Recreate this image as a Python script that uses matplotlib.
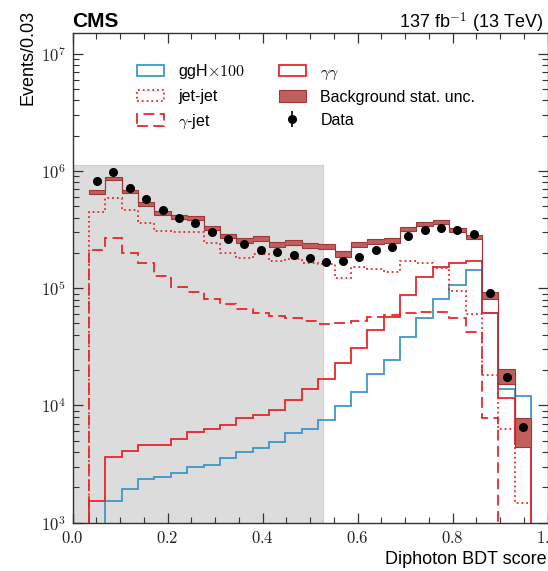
import numpy as np
import matplotlib
matplotlib.use('Agg')
from matplotlib import pyplot as plt
from matplotlib.patches import Patch
from matplotlib.ticker import FuncFormatter, MultipleLocator, LogLocator, NullFormatter

plt.rcParams['font.family'] = ['Liberation Sans', 'DejaVu Sans']
plt.rcParams['mathtext.fontset'] = 'cm'

# 29 bins of the diphoton BDT score in [0, 1]
n_bins = 29
edges = np.linspace(0.0, 1.0, n_bins + 1)

ggh_x100 = [0, 0, 1.53e3, 1.94e3, 2.35e3, 2.47e3, 2.64e3, 2.97e3, 3.09e3, 3.59e3,
            4.03e3, 4.31e3, 4.88e3, 5.86e3, 6.35e3, 7.45e3, 9.8e3, 1.3e4, 1.87e4, 2.44e4,
            3.8e4, 5.61e4, 8.05e4, 1.07e5, 1.43e5, 6.19e4, 1.37e4, 1.2e4, 0]
gamgam = [0, 1.52e3, 3.66e3, 4.11e3, 4.57e3, 4.63e3, 5.18e3, 5.94e3, 6.34e3, 6.82e3,
          7.78e3, 8.3e3, 9.15e3, 1.11e4, 1.39e4, 1.68e4, 2.29e4, 3.08e4, 4.41e4, 5.72e4,
          8.77e4, 1.24e5, 1.53e5, 1.65e5, 1.72e5, 6.12e4, 1.15e4, 4.67e3, 0]
jetjet = [0, 4.5e5, 5.93e5, 4.66e5, 3.59e5, 3.1e5, 3.0e5, 3.0e5, 2.42e5, 1.99e5,
          1.8e5, 1.95e5, 1.7e5, 1.77e5, 1.65e5, 1.61e5, 1.23e5, 1.51e5, 1.47e5, 1.37e5,
          1.72e5, 1.63e5, 1.49e5, 9.5e4, 6.0e4, 1.81e4, 6.27e3, 1.47e3, 0]
gamjet = [0, 2.1e5, 2.67e5, 1.99e5, 1.63e5, 1.26e5, 1.03e5, 9.35e4, 8.05e4, 7.35e4,
          6.66e4, 6.12e4, 5.8e4, 5.61e4, 5.29e4, 4.93e4, 5.05e4, 5.29e4, 5.72e4, 5.9e4,
          6.2e4, 6.27e4, 6.27e4, 5.6e4, 4.26e4, 7.8e3, 0, 0, 0]
bkg_rel_unc = [0, 0.035, 0.035, 0.035, 0.04, 0.04, 0.04, 0.04, 0.04, 0.04,
               0.045, 0.045, 0.045, 0.045, 0.05, 0.05, 0.06, 0.05, 0.05, 0.05,
               0.04, 0.04, 0.04, 0.04, 0.04, 0.066, 0.14, 0.28, 0]
data = [0, 8.24e5, 9.77e5, 7.18e5, 5.78e5, 4.66e5, 3.98e5, 3.63e5, 3.02e5, 2.63e5,
        2.4e5, 2.11e5, 2.03e5, 1.91e5, 1.8e5, 1.68e5, 1.72e5, 1.85e5, 2.12e5, 2.23e5,
        2.76e5, 3.12e5, 3.29e5, 3.16e5, 2.92e5, 9.17e4, 1.75e4, 6.52e3, 0]

# shaded region
shade_xmax = 0.527
shade_top = 1.13e6

blue = '#3f96c8'
red = '#e8262b'
band_face = '#c0605e'
band_edge = '#9e3838'

fig = plt.figure(figsize=(5.48, 5.71), dpi=100)
ax = fig.add_axes([0.1323, 0.0846, 0.8668, 0.8576])
ax.set_yscale('log')

ax.fill_between([0, shade_xmax], 1.0, shade_top, facecolor='#dcdcdc',
                edgecolor='#cfcfcf', lw=0.8, zorder=0)

ax.stairs(ggh_x100, edges, baseline=None, color=blue, lw=1.3, zorder=2)
ax.stairs(gamgam, edges, baseline=None, color=red, lw=1.3, zorder=2)
ax.stairs(jetjet, edges, baseline=None, color=red, lw=1.3, ls=':', zorder=2)
ax.stairs(gamjet, edges, baseline=None, color=red, lw=1.3, ls=(0, (6, 3)), zorder=2)

total = np.array(gamgam) + np.array(jetjet) + np.array(gamjet)
unc = np.array(bkg_rel_unc)
nz = np.nonzero(total)[0]
i0, i1 = nz[0], nz[-1] + 1
ax.stairs((total * (1 + unc))[i0:i1], edges[i0:i1 + 1], baseline=(total * (1 - unc))[i0:i1],
          fill=True, facecolor=band_face, edgecolor=band_edge, lw=0.8, zorder=3)

centers = 0.5 * (edges[:-1] + edges[1:])
d = np.array(data, dtype=float)
m = d > 0
eb = ax.errorbar(centers[m], d[m], yerr=np.sqrt(d[m]), fmt='o', color='k', ms=5.5,
                 elinewidth=1.2, capsize=0, zorder=4)

ax.set_xlim(0, 1)
ax.set_ylim(1e3, 1.5e7)

ax.xaxis.set_major_locator(MultipleLocator(0.2))
ax.xaxis.set_minor_locator(MultipleLocator(0.05))
ax.xaxis.set_major_formatter(FuncFormatter(lambda v, p: r'$%.1f$' % v))
ax.yaxis.set_major_locator(LogLocator(base=10))
ax.yaxis.set_minor_locator(LogLocator(base=10, subs=np.arange(2, 10)))
ax.yaxis.set_minor_formatter(NullFormatter())
ax.yaxis.set_major_formatter(FuncFormatter(lambda v, p: r'$10^{%d}$' % round(np.log10(v))))

ax.tick_params(which='both', direction='in', top=True, right=True, colors='#333333',
               labelcolor='#222222', labelsize=12, pad=5)
ax.tick_params(which='major', length=7, width=0.9)
ax.tick_params(which='minor', length=4, width=0.8)
for s in ax.spines.values():
    s.set_color('#333333')
    s.set_linewidth(1.0)

ax.set_xlabel('Diphoton BDT score', fontsize=13, loc='right')
ax.xaxis.set_label_coords(0.9985, -0.058)
ax.set_ylabel('Events/0.03', fontsize=13, loc='top')
ax.yaxis.set_label_coords(-0.075, 1.047)

ax.text(0.0, 1.0125, 'CMS', transform=ax.transAxes, fontsize=15, fontweight='bold',
        ha='left', va='baseline')
ax.text(0.9905, 1.0095, r'137 fb$^{\mathsf{-1}}$ (13 TeV)', transform=ax.transAxes,
        fontsize=13, ha='right', va='baseline')

handles = [Patch(facecolor='none', edgecolor=blue, lw=1.3),
           Patch(facecolor='none', edgecolor=red, lw=1.3, ls=':'),
           Patch(facecolor='none', edgecolor=red, lw=1.3, ls=(0, (6, 3))),
           Patch(facecolor='none', edgecolor=red, lw=1.3),
           Patch(facecolor=band_face, edgecolor=band_edge, lw=0.8),
           eb]
labels = [r'ggH$\times100$', 'jet-jet', r'$\gamma$-jet', r'$\gamma\gamma$',
          'Background stat. unc.', 'Data']
ax.legend(handles, labels, ncol=2, loc='upper left', bbox_to_anchor=(0.135, 0.94),
          frameon=False, fontsize=11.5, handlelength=1.7, handleheight=0.7,
          labelspacing=0.5, columnspacing=2.1, handletextpad=0.9,
          borderaxespad=0, borderpad=0)

fig.savefig('out.png', dpi=100)
